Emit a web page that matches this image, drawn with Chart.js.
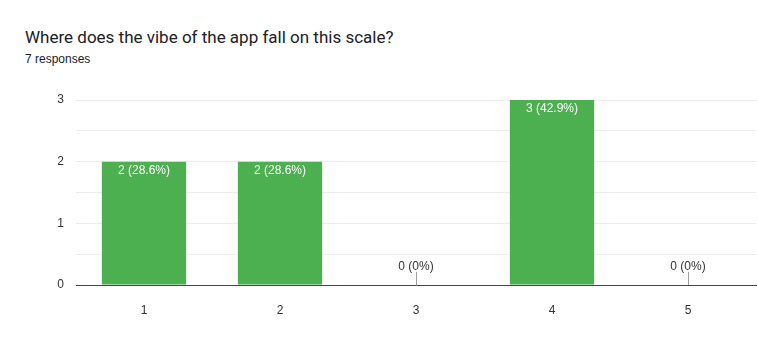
<!DOCTYPE html>
<html>
<head>
<meta charset="utf-8">
<script src="https://cdn.jsdelivr.net/npm/chart.js@4"></script>
<style>
  html, body { margin: 0; padding: 0; background: #fff; }
  #wrap { position: relative; width: 758px; height: 362px; }
  #title { position: absolute; left: 25px; top: 27px; font: 17px Roboto, Arial, sans-serif; color: #202124; white-space: nowrap; }
  #sub { position: absolute; left: 25px; top: 52px; font: 12px Arial, sans-serif; color: #202124; }
  canvas { position: absolute; left: 0; top: 0; }
</style>
</head>
<body>
<div id="wrap">
  <div id="title">Where does the vibe of the app fall on this scale?</div>
  <div id="sub">7 responses</div>
  <canvas id="chart" width="758" height="362"></canvas>
</div>
<script>
// Svar på skalaen 1-5
const labels = ['1', '2', '3', '4', '5'];
const responses = [2, 2, 0, 3, 0];
const yTicks = [0, 1, 2, 3];

const total = responses.reduce((a, b) => a + b, 0);

// Tekst over/inde i søjlerne, fx "2 (28.6%)"
const valueLabels = {
    id: 'valueLabels',
    afterDatasetsDraw(chart) {
        const c = chart.ctx;
        const meta = chart.getDatasetMeta(0);
        c.save();
        c.font = '12px Arial, sans-serif';
        c.textAlign = 'center';
        c.textBaseline = 'middle';
        meta.data.forEach((bar, i) => {
            const v = responses[i];
            const pct = v === 0 ? '0%' : (v / total * 100).toFixed(1) + '%';
            const text = v + ' (' + pct + ')';
            if (v > 0) {
                c.fillStyle = '#ffffff';
                c.fillText(text, bar.x, bar.y + 9);
            } else {
                c.strokeStyle = '#9e9e9e';
                c.lineWidth = 1;
                c.beginPath();
                c.moveTo(Math.round(bar.x) + 0.5, bar.base - 13);
                c.lineTo(Math.round(bar.x) + 0.5, bar.base);
                c.stroke();
                c.fillStyle = '#333333';
                c.fillText(text, bar.x, bar.base - 18);
            }
        });
        c.restore();
    }
};

new Chart(document.querySelector('#chart'), {
    type: 'bar',
    data: {
        labels: labels,
        datasets: [{
            data: responses,
            backgroundColor: '#4caf50',
            borderWidth: 0,
            barPercentage: 0.62,
            categoryPercentage: 1
        }]
    },
    options: {
        responsive: false,
        animation: false,
        layout: {
            padding: { left: 46, top: 100, right: 2, bottom: 47 }
        },
        scales: {
            y: {
                min: 0,
                max: 3,
                afterFit: s => { s.width = 30; },
                afterBuildTicks: s => {
                    s.ticks = [0, 0.5, 1, 1.5, 2, 2.5, 3].map(v => ({ value: v }));
                },
                ticks: {
                    padding: 12,
                    color: '#333333',
                    font: { family: 'Arial, sans-serif', size: 12 },
                    callback: v => yTicks.includes(v) ? String(v) : ''
                },
                grid: { color: '#ececec', drawTicks: false },
                border: { display: false }
            },
            x: {
                afterFit: s => { s.height = 30; },
                ticks: {
                    padding: 10,
                    color: '#333333',
                    font: { family: 'Arial, sans-serif', size: 12 }
                },
                grid: { display: false },
                border: { color: '#444444', width: 1 }
            }
        },
        plugins: {
            legend: { display: false },
            tooltip: { enabled: false }
        }
    },
    plugins: [valueLabels]
});
</script>
</body>
</html>
